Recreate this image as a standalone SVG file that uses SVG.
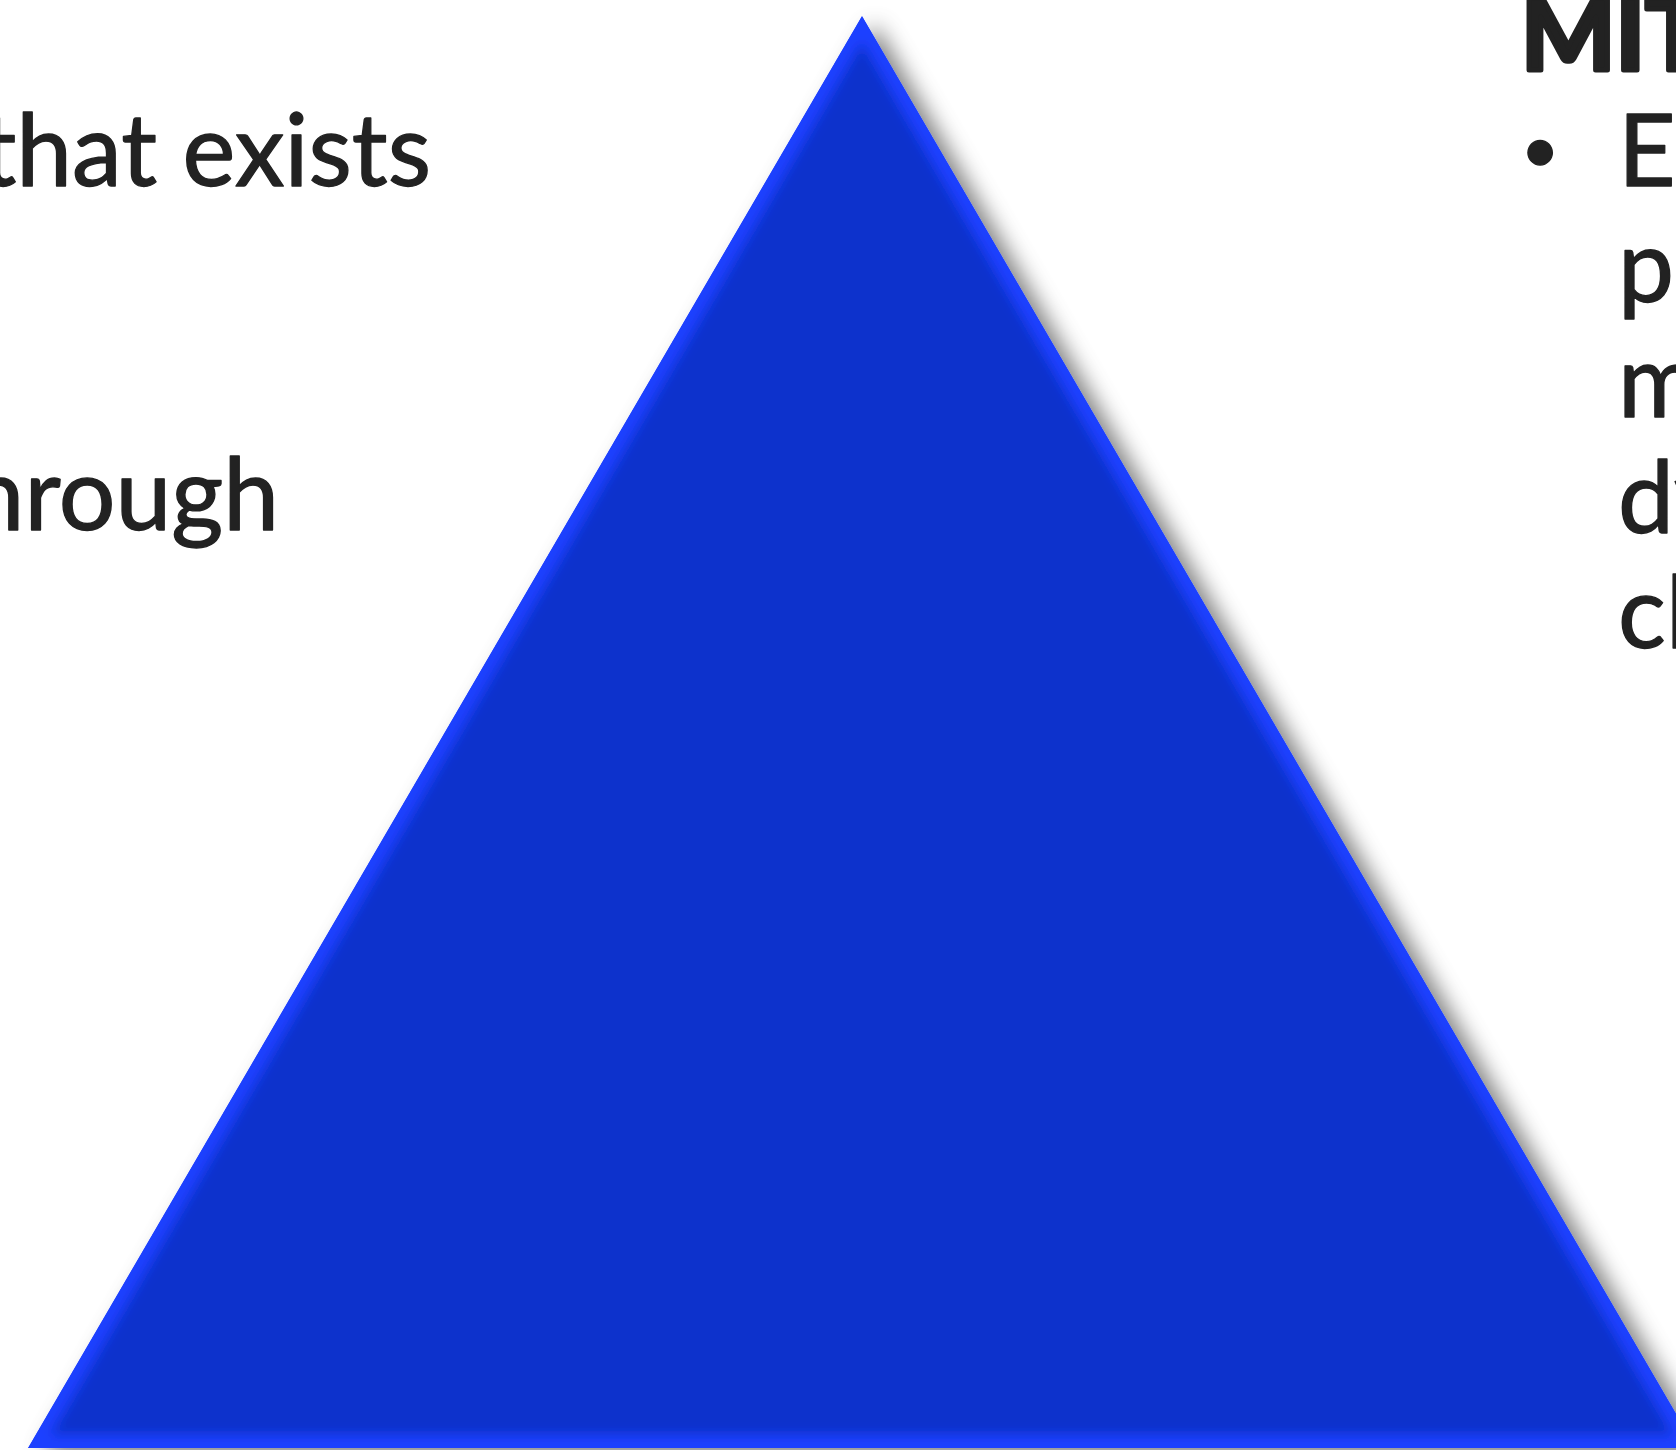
<svg xmlns="http://www.w3.org/2000/svg" width="1676" height="1450" viewBox="0 0 1676 1450">
<style>
.t{font-family:Lato,"Liberation Sans",sans-serif;font-size:100px;fill:#222222;stroke:#222222;stroke-width:1.3;stroke-linejoin:round}
.b{font-weight:bold;stroke-width:5}
</style>
<defs>
<filter id="shadow" x="-10%" y="-10%" width="125%" height="125%">
<feGaussianBlur in="SourceAlpha" stdDeviation="11"/>
<feOffset dx="13" dy="8" result="b"/>
<feFlood flood-color="#000" flood-opacity="0.5"/>
<feComposite in2="b" operator="in"/>
<feMerge><feMergeNode/><feMergeNode in="SourceGraphic"/></feMerge>
</filter>
<filter id="glow" x="-5%" y="-5%" width="110%" height="110%">
<feGaussianBlur stdDeviation="6"/>
</filter>
<clipPath id="triClip"><polygon points="862,16 28,1448 1696,1448"/></clipPath>
</defs>
<rect width="1676" height="1450" fill="#ffffff"/>
<g id="triangle" filter="url(#shadow)">
<g clip-path="url(#triClip)">
<polygon points="862,16 28,1448 1696,1448" fill="#1a40ff"/>
<polygon points="862,16 28,1448 1696,1448" fill="#1133cc" stroke="#1a40ff" stroke-width="26" stroke-linejoin="round" filter="url(#glow)"/>
</g>
</g>
<g id="left-text">
<text class="t" x="431" y="186" text-anchor="end">that exists</text>
<text class="t" x="279" y="530" text-anchor="end">through</text>
</g>
<g id="right-text">
<text class="t b" x="1521" y="70">MIT</text>
<text class="t" x="1521" y="172" style="font-size:66px">•</text>
<text class="t" x="1618" y="186">E</text>
<text class="t" x="1618" y="302">p</text>
<text class="t" x="1618" y="417">m</text>
<text class="t" x="1618" y="533">dy</text>
<text class="t" x="1618" y="648">cl</text>
</g>
</svg>
